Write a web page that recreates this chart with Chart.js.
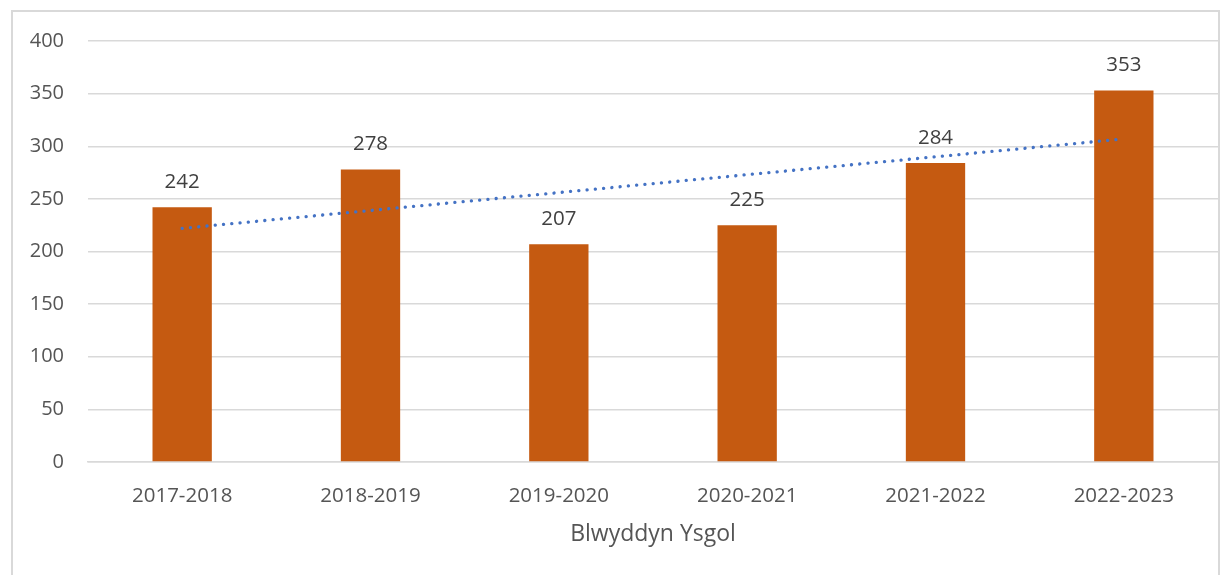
<!DOCTYPE html>
<html>
<head>
<meta charset="utf-8">
<script src="https://cdn.jsdelivr.net/npm/chart.js@4.4.1/dist/chart.umd.min.js"></script>
<style>
  html, body { margin: 0; padding: 0; background: #fff; }
  #wrap { position: relative; width: 1225px; height: 575px; overflow: hidden; }
  #frame { position: absolute; left: 11px; top: 10px; width: 1209px; height: 600px;
           border: 2px solid #d9d9d9; box-sizing: border-box; }
  canvas { position: absolute; left: 0; top: 0; }
</style>
</head>
<body>
<div id="wrap">
  <div id="frame"></div>
  <canvas id="chart" width="1225" height="575"></canvas>
</div>
<script>
// Data
const years = ['2017-2018', '2018-2019', '2019-2020', '2020-2021', '2021-2022', '2022-2023'];
const pupils = [242, 278, 207, 225, 284, 353];
// trend line ends
const trend = [222, null, null, null, null, 307];
const yTicks = [0, 50, 100, 150, 200, 250, 300, 350, 400];

const FONT = "'Open Sans', 'DejaVu Sans', sans-serif";

// value labels above the bars
const barLabels = {
  id: 'barLabels',
  afterDatasetsDraw(chart) {
    const ctx = chart.ctx;
    const meta = chart.getDatasetMeta(1);
    ctx.save();
    ctx.font = "20.5px " + FONT;
    ctx.fillStyle = '#404040';
    ctx.textAlign = 'center';
    ctx.textBaseline = 'middle';
    meta.data.forEach((bar, i) => {
      ctx.fillText(String(pupils[i]), bar.x, bar.y - 25);
    });
    ctx.restore();
  }
};

new Chart(document.getElementById('chart'), {
  type: 'bar',
  data: {
    labels: years,
    datasets: [
      {
        type: 'line',
        data: trend,
        spanGaps: true,
        borderColor: '#4472C4',
        borderWidth: 3.3,
        borderDash: [0.1, 8.2],
        borderCapStyle: 'round',
        pointRadius: 0,
        fill: false,
        order: 0
      },
      {
        data: pupils,
        backgroundColor: '#C55A11',
        barPercentage: 0.315,
        categoryPercentage: 1,
        order: 1
      }
    ]
  },
  options: {
    responsive: false,
    animation: false,
    layout: { padding: { top: 41, right: 7, left: 0, bottom: 0 } },
    plugins: { legend: { display: false }, tooltip: { enabled: false } },
    scales: {
      x: {
        grid: { display: false },
        border: { color: '#d9d9d9', width: 1.5 },
        ticks: { color: '#555555', font: { family: FONT, size: 20.5 }, padding: 14 },
        title: {
          display: true, text: 'Blwyddyn Ysgol', color: '#555555',
          font: { family: FONT, size: 23 }, padding: { top: 0, bottom: 27 }
        },
        afterFit(scale) { scale.height = 113; }
      },
      y: {
        min: 0, max: 400,
        afterBuildTicks(scale) { scale.ticks = yTicks.map(v => ({ value: v })); },
        grid: { color: '#d9d9d9', lineWidth: 1.5, drawTicks: false },
        border: { display: false },
        ticks: { color: '#555555', font: { family: FONT, size: 20 }, padding: 24 },
        afterFit(scale) { scale.width = 88; }
      }
    }
  },
  plugins: [barLabels]
});
</script>
</body>
</html>
